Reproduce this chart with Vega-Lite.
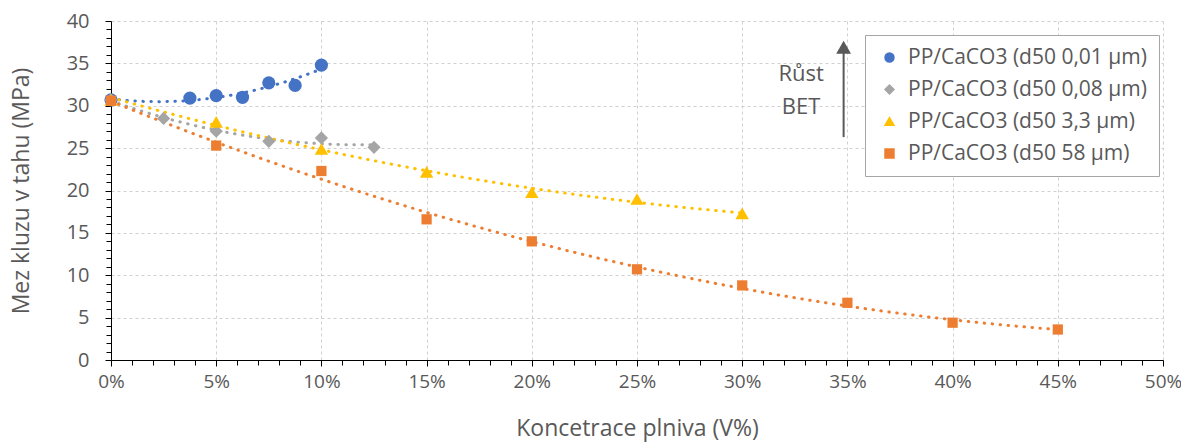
{
  "$schema": "https://vega.github.io/schema/vega-lite/v6.json",
  "width": 1052,
  "height": 339,
  "autosize": {"type": "none"},
  "padding": {"left": 111, "top": 21, "right": 18, "bottom": 83},
  "background": "white",
  "config": {
    "view": {"stroke": null},
    "font": "Open Sans",
    "legend": {
      "padding": 12,
      "strokeColor": "#A6A6A6",
      "fillColor": "#FFFFFF",
      "labelFontSize": 21,
      "labelColor": "#595959",
      "labelLimit": 400,
      "symbolSize": 80,
      "labelOffset": 8,
      "rowPadding": 10,
      "symbolOffset": 2
    }
  },
  "datasets": {
    "pts": [
      {"series": "PP/CaCO3 (d50 0,01 µm)", "x": 0, "y": 30.7},
      {"series": "PP/CaCO3 (d50 0,01 µm)", "x": 3.75, "y": 30.9},
      {"series": "PP/CaCO3 (d50 0,01 µm)", "x": 5, "y": 31.2},
      {"series": "PP/CaCO3 (d50 0,01 µm)", "x": 6.25, "y": 31.0},
      {"series": "PP/CaCO3 (d50 0,01 µm)", "x": 7.5, "y": 32.7},
      {"series": "PP/CaCO3 (d50 0,01 µm)", "x": 8.75, "y": 32.4},
      {"series": "PP/CaCO3 (d50 0,01 µm)", "x": 10, "y": 34.8},
      {"series": "PP/CaCO3 (d50 0,08 µm)", "x": 0, "y": 30.7},
      {"series": "PP/CaCO3 (d50 0,08 µm)", "x": 2.5, "y": 28.5},
      {"series": "PP/CaCO3 (d50 0,08 µm)", "x": 5, "y": 27.0},
      {"series": "PP/CaCO3 (d50 0,08 µm)", "x": 7.5, "y": 25.8},
      {"series": "PP/CaCO3 (d50 0,08 µm)", "x": 10, "y": 26.2},
      {"series": "PP/CaCO3 (d50 0,08 µm)", "x": 12.5, "y": 25.1},
      {"series": "PP/CaCO3 (d50 3,3 µm)", "x": 0, "y": 30.7},
      {"series": "PP/CaCO3 (d50 3,3 µm)", "x": 5, "y": 28.1},
      {"series": "PP/CaCO3 (d50 3,3 µm)", "x": 10, "y": 24.9},
      {"series": "PP/CaCO3 (d50 3,3 µm)", "x": 15, "y": 22.2},
      {"series": "PP/CaCO3 (d50 3,3 µm)", "x": 20, "y": 19.8},
      {"series": "PP/CaCO3 (d50 3,3 µm)", "x": 25, "y": 19.0},
      {"series": "PP/CaCO3 (d50 3,3 µm)", "x": 30, "y": 17.3},
      {"series": "PP/CaCO3 (d50 58 µm)", "x": 0, "y": 30.6},
      {"series": "PP/CaCO3 (d50 58 µm)", "x": 5, "y": 25.3},
      {"series": "PP/CaCO3 (d50 58 µm)", "x": 10, "y": 22.3},
      {"series": "PP/CaCO3 (d50 58 µm)", "x": 15, "y": 16.6},
      {"series": "PP/CaCO3 (d50 58 µm)", "x": 20, "y": 14.0},
      {"series": "PP/CaCO3 (d50 58 µm)", "x": 25, "y": 10.7},
      {"series": "PP/CaCO3 (d50 58 µm)", "x": 30, "y": 8.8},
      {"series": "PP/CaCO3 (d50 58 µm)", "x": 35, "y": 6.75},
      {"series": "PP/CaCO3 (d50 58 µm)", "x": 40, "y": 4.4},
      {"series": "PP/CaCO3 (d50 58 µm)", "x": 45, "y": 3.6}
    ],
    "notes": [
      {"x": 32.8, "y": 33.8, "t": "Růst"},
      {"x": 32.8, "y": 29.8, "t": "BET"}
    ],
    "arrow": [
      {"x": 34.82, "y": 26.3, "y2": 36.4}
    ],
    "head": [
      {"x": 34.82, "y": 36.9}
    ]
  },
  "encoding": {
    "x": {
      "field": "x", "type": "quantitative",
      "scale": {"domain": [0, 50], "nice": false, "zero": true},
      "axis": {
        "values": [0,1,2,3,4,5,6,7,8,9,10,11,12,13,14,15,16,17,18,19,20,21,22,23,24,25,26,27,28,29,30,31,32,33,34,35,36,37,38,39,40,41,42,43,44,45,46,47,48,49,50],
        "labelExpr": "datum.value % 5 === 0 ? datum.value + '%' : ''",
        "labelOverlap": false,
        "labelFlush": false,
        "labelBound": false,
        "title": "Koncetrace plniva (V%)",
        "grid": true,
        "gridDash": [3, 3],
        "gridColor": "#D0D0D0",
        "gridOpacity": {"condition": {"test": "datum.value % 5 === 0", "value": 1}, "value": 0},
        "tickSize": {"condition": {"test": "datum.value % 5 === 0", "value": 6}, "value": 5},
        "tickColor": "#000000",
        "domainColor": "#000000",
        "labelFontSize": 19,
        "labelColor": "#595959",
        "labelPadding": 6,
        "titleFontSize": 23,
        "titleFontWeight": "normal",
        "titleColor": "#595959",
        "titlePadding": 26
      }
    },
    "y": {
      "field": "y", "type": "quantitative",
      "scale": {"domain": [0, 40], "nice": false},
      "axis": {
        "values": [0,1,2,3,4,5,6,7,8,9,10,11,12,13,14,15,16,17,18,19,20,21,22,23,24,25,26,27,28,29,30,31,32,33,34,35,36,37,38,39,40],
        "labelExpr": "datum.value % 5 === 0 ? datum.value : ''",
        "labelOverlap": false,
        "labelFlush": false,
        "title": "Mez kluzu v tahu (MPa)",
        "grid": true,
        "gridDash": [3, 3],
        "gridColor": "#D0D0D0",
        "gridOpacity": {"condition": {"test": "datum.value % 5 === 0", "value": 1}, "value": 0},
        "tickSize": {"condition": {"test": "datum.value % 5 === 0", "value": 6}, "value": 5},
        "tickColor": "#000000",
        "domainColor": "#000000",
        "labelFontSize": 20,
        "labelColor": "#595959",
        "labelPadding": 16,
        "titleFontSize": 23,
        "titleFontWeight": "normal",
        "titleColor": "#595959",
        "titlePadding": 33
      }
    }
  },
  "layer": [
    {
      "data": {"name": "pts"},
      "transform": [
        {"regression": "y", "on": "x", "groupby": ["series"], "method": "poly", "order": 2}
      ],
      "mark": {"type": "line", "strokeWidth": 3, "strokeDash": [0.5, 7.5], "strokeCap": "round"},
      "encoding": {
        "detail": {"field": "series", "type": "nominal"},
        "color": {
          "field": "series", "type": "nominal",
          "scale": {
            "domain": ["PP/CaCO3 (d50 0,01 µm)", "PP/CaCO3 (d50 0,08 µm)", "PP/CaCO3 (d50 3,3 µm)", "PP/CaCO3 (d50 58 µm)"],
            "range": ["#4472C4", "#A5A5A5", "#FFC000", "#ED7D31"]
          },
          "title": null,
          "legend": {"orient": "none", "legendX": 754, "legendY": 14}
        }
      }
    },
    {
      "data": {"name": "pts"},
      "mark": {"type": "point", "filled": true, "opacity": 1},
      "encoding": {
        "color": {"field": "series", "type": "nominal", "title": null,
          "legend": {"orient": "none", "legendX": 754, "legendY": 14}},
        "shape": {
          "field": "series", "type": "nominal", "title": null,
          "scale": {
            "domain": ["PP/CaCO3 (d50 0,01 µm)", "PP/CaCO3 (d50 0,08 µm)", "PP/CaCO3 (d50 3,3 µm)", "PP/CaCO3 (d50 58 µm)"],
            "range": ["circle", "diamond", "triangle-up", "square"]
          },
          "legend": {"orient": "none", "legendX": 754, "legendY": 14}
        },
        "size": {
          "condition": [
            {"test": "datum.series === 'PP/CaCO3 (d50 0,01 µm)'", "value": 175},
            {"test": "datum.series === 'PP/CaCO3 (d50 0,08 µm)'", "value": 175},
            {"test": "datum.series === 'PP/CaCO3 (d50 3,3 µm)'", "value": 180}
          ],
          "value": 105
        }
      }
    },
    {
      "data": {"name": "notes"},
      "mark": {"type": "text", "fontSize": 22, "color": "#595959", "align": "center", "baseline": "middle"},
      "encoding": {
        "text": {"field": "t"}
      }
    },
    {
      "data": {"name": "arrow"},
      "mark": {"type": "rule", "color": "#595959", "strokeWidth": 2},
      "encoding": {
        "y2": {"field": "y2"}
      }
    },
    {
      "data": {"name": "head"},
      "mark": {"type": "point", "shape": "triangle-up", "filled": true, "color": "#595959", "size": 220, "opacity": 1},
      "encoding": {}
    }
  ]
}
